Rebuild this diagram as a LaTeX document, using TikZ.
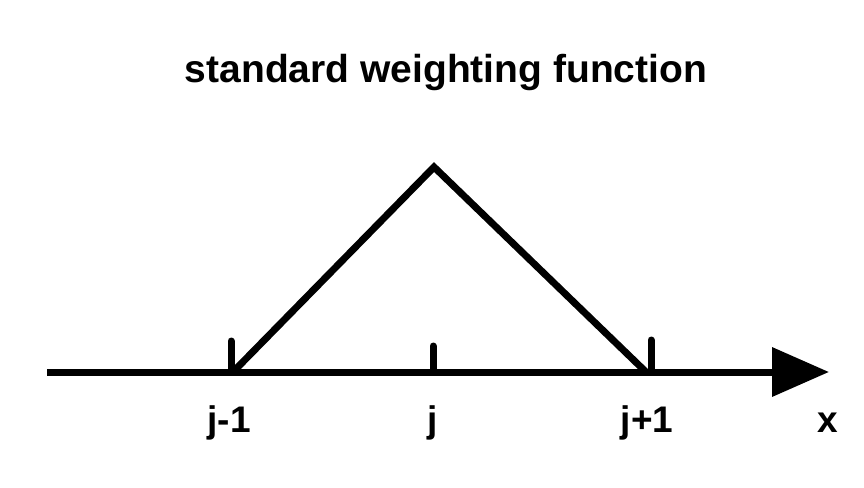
\documentclass[tikz,border=0pt]{standalone}
\usepackage{fontspec}
\setmainfont{Liberation Sans}
\usetikzlibrary{arrows.meta}

\begin{document}
\begin{tikzpicture}[
  x=1pt, y=-1pt,
  axis/.style={line width=7pt, -{Triangle[length=57pt,width=48pt]}},
  tick/.style={line width=7pt, line cap=round},
  hat/.style={line width=7pt, line join=miter},
  lbl/.style={font=\fontsize{37}{40}\selectfont\bfseries, anchor=base, inner sep=0pt},
  ttl/.style={font=\fontsize{39}{42}\selectfont\bfseries, anchor=base, inner sep=0pt}
]
\useasboundingbox (0,0) rectangle (864,487);
\node[ttl] (title) at (446,82) {standard weighting function};
% axis and ticks
\coordinate (start) at (47,372);
\coordinate (end)   at (829,372);
\coordinate (left)  at (231,372);
\coordinate (mid)   at (433,372);
\coordinate (right) at (651,372);
\coordinate (apex)  at (434,167);
\draw[axis] (start) -- (end);
\draw[tick] (left)  -- ++(0,-31);
\draw[tick] (mid)   -- ++(0,-26);
\draw[tick] (right) -- ++(0,-32);
% weighting function
\draw[hat] ([xshift=2pt]left) -- (apex) -- ([xshift=-5pt]right);
% labels
\node[lbl] (jm) at (229,432) {j-1};
\node[lbl] (j)  at (433,432) {j};
\node[lbl] (jp) at (647,432) {j+1};
\node[lbl] (x)  at (828,432) {x};
\end{tikzpicture}
\end{document}
